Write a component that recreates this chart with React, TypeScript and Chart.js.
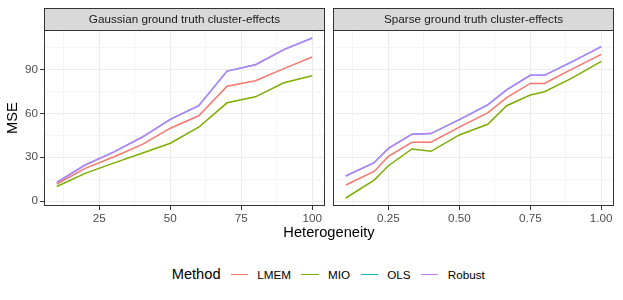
import React, { useEffect, useRef } from "react";
import { Chart, registerables } from "chart.js";
Chart.register(...registerables);

const FONT = "'Liberation Sans', Arial, Helvetica, sans-serif";

const methods = ["LMEM", "MIO", "OLS", "Robust"];
const methodColors = ["#F8766D", "#7CAE00", "#00BFC4", "#C77CFF"];

// Gaussian panel
const gaussHet = [10, 20, 30, 40, 50, 60, 70, 80, 90, 100];
const gaussLMEM = [11.7, 22.4, 30.2, 38.7, 49.9, 58.4, 78.7, 82.4, 90.7, 98.7];
const gaussMIO = [10.0, 19.0, 26.0, 32.7, 39.6, 50.6, 67.3, 71.4, 81.0, 85.8];
const gaussOLS = [12.8, 24.7, 33.5, 43.7, 56.0, 65.3, 89.0, 93.4, 103.7, 111.7];
const gaussRobust = [12.8, 24.7, 33.5, 43.7, 56.0, 65.3, 89.0, 93.4, 103.7, 111.7];

// Sparse panel
const sparseHet = [0.1, 0.2, 0.25, 0.3333, 0.4, 0.5, 0.6, 0.6667, 0.75, 0.8, 0.9, 1.0];
const sparseLMEM = [11.0, 20.3, 30.6, 40.3, 40.3, 50.6, 60.4, 70.8, 80.6, 80.6, 90.7, 100.5];
const sparseMIO = [2.1, 14.4, 24.2, 35.7, 34.1, 45.3, 52.6, 65.3, 72.6, 74.9, 84.5, 95.7];
const sparseOLS = [17.2, 26.3, 36.1, 45.8, 46.2, 55.8, 65.9, 76.2, 86.1, 86.1, 95.7, 105.8];
const sparseRobust = [17.2, 26.3, 36.1, 45.8, 46.2, 55.8, 65.9, 76.2, 86.1, 86.1, 95.7, 105.8];

// Ticks
const yTicks = [0, 30, 60, 90];
const yTickLabels = ["0", "30", "60", "90"];
const gaussTicks = [25, 50, 75, 100];
const gaussTickLabels = ["25", "50", "75", "100"];
const sparseTicks = [0.25, 0.5, 0.75, 1.0];
const sparseTickLabels = ["0.25", "0.50", "0.75", "1.00"];

const panelTitles = ["Gaussian ground truth cluster-effects", "Sparse ground truth cluster-effects"];
const xTitle = "Heterogeneity";
const yTitle = "MSE";
const legendTitle = "Method";

function expand(vals: number[]) {
  const mn = Math.min(...vals);
  const mx = Math.max(...vals);
  const r = mx - mn;
  return [mn - r * 0.05, mx + r * 0.05];
}

function withMinor(major: number[], min: number, max: number) {
  const step = major[1] - major[0];
  const all: { value: number; major: boolean }[] = [];
  const start = major[0] - step;
  for (let i = 0; i <= major.length + 1; i++) {
    const m = start + i * step;
    const mid = m + step / 2;
    if (m >= min - 1e-9 && m <= max + 1e-9) {
      const isMajor = major.some((v) => Math.abs(v - m) < 1e-9);
      if (isMajor) all.push({ value: m, major: true });
    }
    if (mid >= min && mid <= max) all.push({ value: mid, major: false });
  }
  for (const v of major) {
    if (!all.some((t) => Math.abs(t.value - v) < 1e-9)) all.push({ value: v, major: true });
  }
  return all.sort((a, b) => a.value - b.value);
}

const allY = [
  ...gaussLMEM, ...gaussMIO, ...gaussOLS, ...gaussRobust,
  ...sparseLMEM, ...sparseMIO, ...sparseOLS, ...sparseRobust,
];
const [yMin, yMax] = expand(allY);

const panelPlugin = {
  id: "panelDecor",
  afterDraw(chart: any, _args: any, opts: any) {
    const { ctx, chartArea } = chart;
    const l = Math.round(chartArea.left) + 0.5;
    const r = Math.round(chartArea.right) - 0.5;
    const t = Math.round(chartArea.top) + 0.5;
    const b = Math.round(chartArea.bottom) - 0.5;
    ctx.save();
    // panel border
    ctx.strokeStyle = "#333333";
    ctx.lineWidth = 1;
    ctx.strokeRect(l, t, r - l, b - t);
    // strip
    const st = 8.5;
    ctx.fillStyle = "#D9D9D9";
    ctx.fillRect(l, st, r - l, t - st);
    ctx.strokeRect(l, st, r - l, t - st);
    ctx.fillStyle = "#1A1A1A";
    ctx.font = `11.7px ${FONT}`;
    ctx.textAlign = "center";
    ctx.textBaseline = "middle";
    ctx.fillText(opts.title, (l + r) / 2, (st + t) / 2 + 0.5);
    ctx.restore();
  },
};

function makeDatasets(xs: number[], series: number[][]) {
  return series.map((ys, i) => ({
    label: methods[i],
    data: xs.map((x, j) => ({ x, y: ys[j] })),
    borderColor: methodColors[i],
    backgroundColor: methodColors[i],
    borderWidth: 1.5,
    pointRadius: 0,
    tension: 0,
    order: series.length - i,
  }));
}

function makeConfig(opts: {
  xs: number[];
  series: number[][];
  xTicks: number[];
  xLabels: string[];
  showY: boolean;
  title: string;
  padLeft: number;
  padRight: number;
  yWidth: number;
}) {
  const [xMin, xMax] = expand(opts.xs);
  const xT = withMinor(opts.xTicks, xMin, xMax);
  const yT = withMinor(yTicks, yMin, yMax);
  const isMajorX = (v: number) => opts.xTicks.some((m) => Math.abs(m - v) < 1e-9);
  const isMajorY = (v: number) => yTicks.some((m) => Math.abs(m - v) < 1e-9);
  return {
    type: "line",
    data: { datasets: makeDatasets(opts.xs, opts.series) },
    plugins: [panelPlugin],
    options: {
      responsive: false,
      animation: false,
      devicePixelRatio: 1,
      layout: { padding: { top: 30, left: opts.padLeft, right: opts.padRight, bottom: 0 } },
      plugins: {
        legend: { display: false },
        tooltip: { enabled: false },
        panelDecor: { title: opts.title },
      },
      scales: {
        x: {
          type: "linear",
          min: xMin,
          max: xMax,
          afterBuildTicks: (s: any) => {
            s.ticks = xT.map((t) => ({ value: t.value }));
          },
          afterFit: (s: any) => {
            s.height = 24;
          },
          border: { display: false },
          grid: {
            color: (c: any) => (c.tick && isMajorX(c.tick.value) ? "#EBEBEB" : "#F5F5F5"),
            lineWidth: 1,
            tickColor: (c: any) => (c.tick && isMajorX(c.tick.value) ? "#333333" : "rgba(0,0,0,0)"),
            tickLength: 4,
            tickWidth: 1,
          },
          ticks: {
            autoSkip: false,
            maxRotation: 0,
            padding: 2,
            color: "#4D4D4D",
            font: { size: 11.7, family: FONT },
            callback: (v: number) => {
              const i = opts.xTicks.findIndex((m) => Math.abs(m - v) < 1e-9);
              return i >= 0 ? opts.xLabels[i] : "";
            },
          },
        },
        y: {
          type: "linear",
          min: yMin,
          max: yMax,
          afterBuildTicks: (s: any) => {
            s.ticks = yT.map((t) => ({ value: t.value }));
          },
          afterFit: (s: any) => {
            s.width = opts.yWidth;
          },
          border: { display: false },
          title: {
            display: opts.showY,
            text: yTitle,
            color: "#000000",
            font: { size: 14.67, family: FONT },
            padding: { top: 4, bottom: 0 },
          },
          grid: {
            color: (c: any) => (c.tick && isMajorY(c.tick.value) ? "#EBEBEB" : "#F5F5F5"),
            lineWidth: 1,
            drawTicks: opts.showY,
            tickColor: (c: any) => (c.tick && isMajorY(c.tick.value) ? "#333333" : "rgba(0,0,0,0)"),
            tickLength: 4,
            tickWidth: 1,
          },
          ticks: {
            display: opts.showY,
            autoSkip: false,
            padding: 2,
            color: "#4D4D4D",
            font: { size: 11.7, family: FONT },
            callback: (v: number) => {
              const i = yTicks.findIndex((m) => Math.abs(m - v) < 1e-9);
              return i >= 0 ? yTickLabels[i] : "";
            },
          },
        },
      },
    },
  } as any;
}

function Panel(props: { left: number; width: number; config: any }) {
  const ref = useRef<HTMLCanvasElement | null>(null);
  useEffect(() => {
    if (!ref.current) return;
    const chart = new Chart(ref.current, props.config);
    return () => chart.destroy();
  }, []);
  return (
    <canvas
      ref={ref}
      width={props.width}
      height={230}
      style={{ position: "absolute", left: props.left, top: 0, width: props.width, height: 230 }}
    />
  );
}

export default function App() {
  const leftCfg = makeConfig({
    xs: gaussHet,
    series: [gaussLMEM, gaussMIO, gaussOLS, gaussRobust],
    xTicks: gaussTicks,
    xLabels: gaussTickLabels,
    showY: true,
    title: panelTitles[0],
    padLeft: 0,
    padRight: 5,
    yWidth: 44,
  });
  const rightCfg = makeConfig({
    xs: sparseHet,
    series: [sparseLMEM, sparseMIO, sparseOLS, sparseRobust],
    xTicks: sparseTicks,
    xLabels: sparseTickLabels,
    showY: false,
    title: panelTitles[1],
    padLeft: 0,
    padRight: 9,
    yWidth: 3,
  });
  return (
    <div
      style={{
        position: "absolute",
        left: 0,
        top: 0,
        width: 623,
        height: 300,
        background: "#FFFFFF",
        fontFamily: FONT,
        overflow: "hidden",
      }}
    >
      <Panel left={0} width={330} config={leftCfg} />
      <Panel left={330} width={293} config={rightCfg} />
      <div
        style={{
          position: "absolute",
          left: 44,
          width: 570,
          top: 225,
          textAlign: "center",
          fontSize: 14.67,
          lineHeight: "14.67px",
          color: "#000000",
        }}
      >
        {xTitle}
      </div>
      <div
        style={{
          position: "absolute",
          left: 171.7,
          top: 264.3,
          height: 20,
          display: "flex",
          alignItems: "center",
          whiteSpace: "nowrap",
        }}
      >
        <span style={{ fontSize: 14.67, color: "#000000", marginRight: 10 }}>{legendTitle}</span>
        {methods.map((m, i) => (
          <React.Fragment key={m}>
            <div style={{ width: 17.3, height: 1.6, background: methodColors[i], marginRight: 9.3 }} />
            <span style={{ fontSize: 11.7, color: "#000000", marginRight: i < methods.length - 1 ? 10.5 : 0 }}>
              {m}
            </span>
          </React.Fragment>
        ))}
      </div>
    </div>
  );
}
